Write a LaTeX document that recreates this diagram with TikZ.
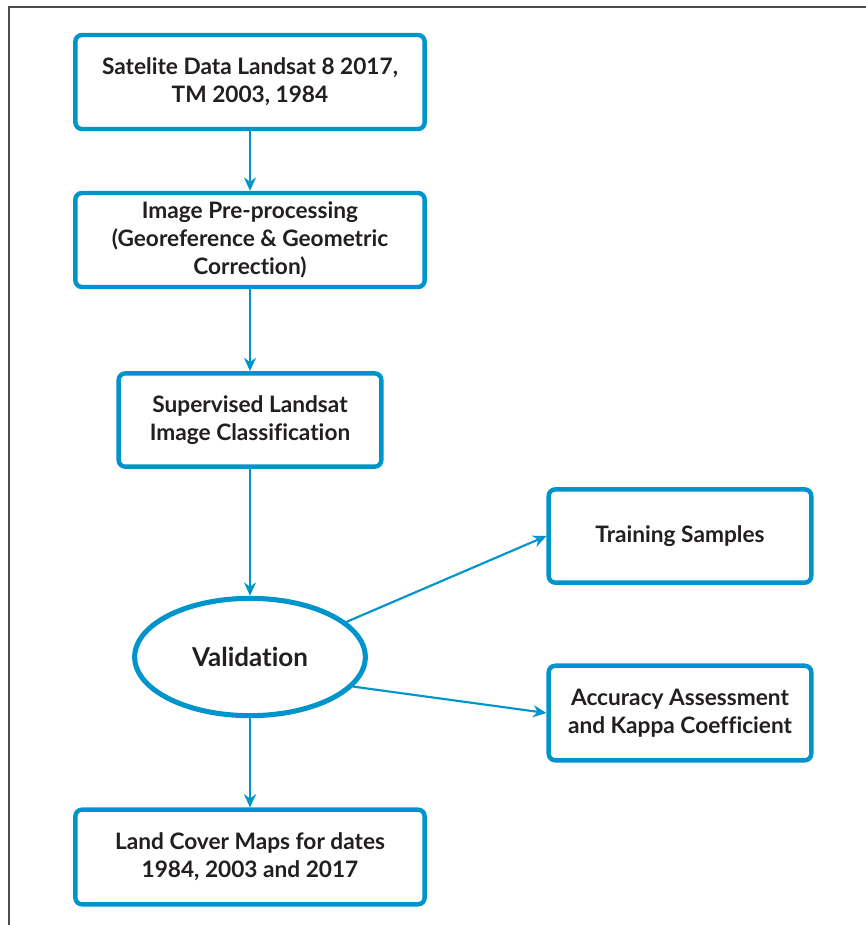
\documentclass[tikz,border=0pt]{standalone}
\usepackage{fontspec}
\setmainfont{Lato}[Ligatures=NoCommon]
\usetikzlibrary{arrows.meta,shapes.geometric}
\definecolor{flowblue}{RGB}{0,148,204}
\definecolor{flowtext}{RGB}{35,31,32}
\begin{document}
\begin{tikzpicture}[x=0.75pt,y=-0.75pt,
  box/.style={draw=flowblue,line width=3.3pt,rounded corners=5pt,fill=white,
    align=center,inner sep=0pt,text=flowtext,
    font=\fontsize{17}{21}\selectfont\bfseries},
  oval/.style={ellipse,draw=flowblue,line width=3.8pt,inner sep=0pt,
    minimum width=173pt,minimum height=88pt,text=flowtext,
    font=\fontsize{19.5}{22}\selectfont\bfseries},
  flow/.style={draw=flowblue,line width=1.6pt,-{Stealth[length=10pt,width=9pt]}}]
\useasboundingbox (0,0) rectangle (866,925);

% Frame
\draw[gray!60!black,line width=1.6pt] (9,925) -- (9,7) -- (866,7);

% Main column
\node[box,minimum width=262pt,minimum height=70.5pt] (sat) at (250,82)
  {Satelite Data Landsat 8 2017,\\TM 2003, 1984};
\node[box,minimum width=262pt,minimum height=70.5pt] (pre) at (250,240)
  {Image Pre-processing\\(Georeference \& Geometric\\Correction)};
\node[box,minimum width=197pt,minimum height=70pt] (sup) at (250,420)
  {Supervised Landsat\\Image Classification};
\node[oval] (val) at (250,657) {Validation};
\node[box,minimum width=262pt,minimum height=71pt] (lcm) at (250,857)
  {Land Cover Maps for dates\\1984, 2003 and 2017};

% Side boxes
\node[box,minimum width=197pt,minimum height=70pt] (train) at (680,536)
  {Training Samples};
\node[box,minimum width=197pt,minimum height=71pt] (acc) at (680,713)
  {Accuracy Assessment\\and Kappa Coefficient};

% Arrows
\draw[flow] (sat) -- (pre);
\draw[flow] (pre) -- (sup);
\draw[flow] (sup) -- (val);
\draw[flow] (val) -- (lcm);
\draw[flow] (val.20) -- (train.west);
\draw[flow] (val.-16) -- (acc.west);
\end{tikzpicture}
\end{document}
